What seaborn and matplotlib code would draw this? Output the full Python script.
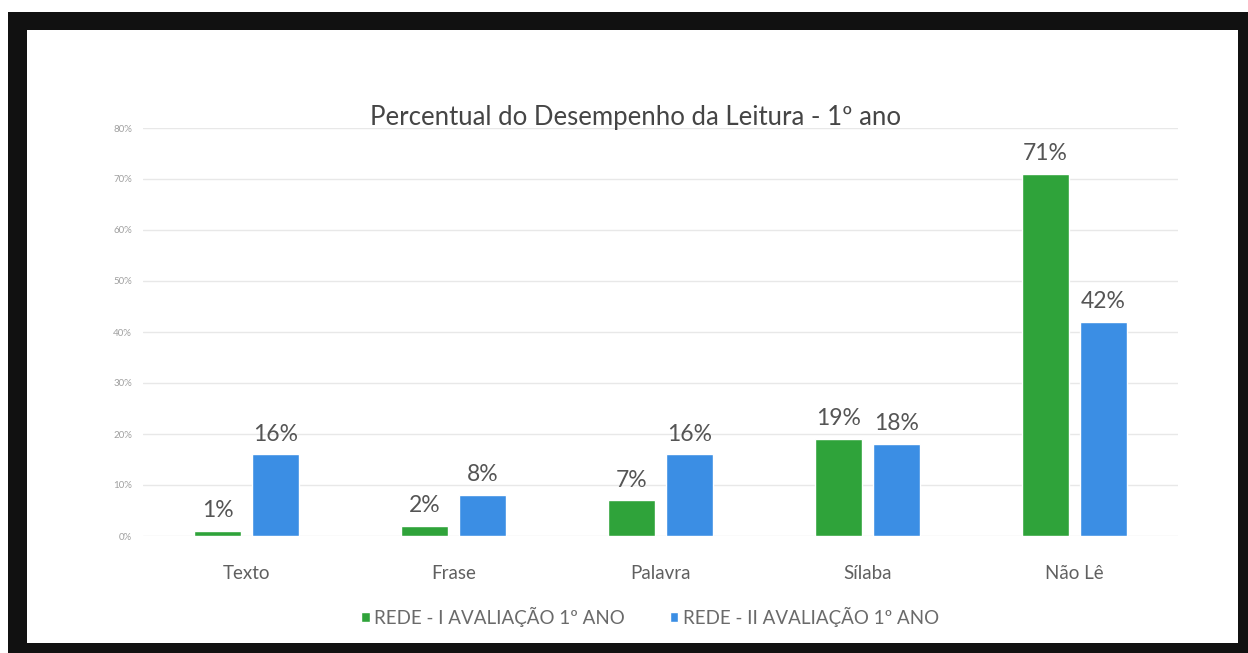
import matplotlib
matplotlib.use("Agg")
import matplotlib.pyplot as plt
from matplotlib.patches import Rectangle
from matplotlib.ticker import PercentFormatter
import pandas as pd
import seaborn as sns

categorias = ["Texto", "Frase", "Palavra", "Sílaba", "Não Lê"]
avaliacao_1 = [1, 2, 7, 19, 71]
avaliacao_2 = [16, 8, 16, 18, 42]
series = ["REDE - I AVALIAÇÃO 1º ANO", "REDE - II AVALIAÇÃO 1º ANO"]
cores = ["#2fa33a", "#3b8ee4"]
titulo = "Percentual do Desempenho da Leitura - 1º ano"

df = pd.DataFrame({
    "categoria": categorias * 2,
    "valor": avaliacao_1 + avaliacao_2,
    "serie": [series[0]] * len(categorias) + [series[1]] * len(categorias),
})

sns.set_theme(style="white")
plt.rcParams["font.family"] = ["Lato", "DejaVu Sans"]

W, H = 1248, 653
fig = plt.figure(figsize=(W / 100, H / 100), dpi=100)
fig.patch.set_facecolor("white")

# black border around the chart
fig.patches.append(Rectangle((8 / W, 0), 1 - 8 / W, (H - 12) / H,
                             transform=fig.transFigure, facecolor="#111111",
                             edgecolor="none", zorder=-2))
fig.patches.append(Rectangle((27 / W, 10 / H), (1238 - 27) / W, (643 - 30) / H,
                             transform=fig.transFigure, facecolor="white",
                             edgecolor="none", zorder=-1))

ax = fig.add_axes([143 / W, (H - 536) / H, (1178 - 143) / W, (536 - 128) / H])
ax.set_facecolor("none")

sns.barplot(data=df, x="categoria", y="valor", hue="serie", palette=cores,
            width=0.56, gap=0.2, ax=ax, legend=True, saturation=1)

ax.set_ylim(0, 80)
ax.set_yticks(range(0, 81, 10))
ax.yaxis.set_major_formatter(PercentFormatter(decimals=0))
ax.tick_params(axis="y", labelsize=7, labelcolor="#a0a0a0", length=0, pad=8)
ax.tick_params(axis="x", labelsize=13.5, labelcolor="#606060", length=0, pad=21)
ax.yaxis.grid(True, color="#e8e8e8", linewidth=1)
ax.set_axisbelow(True)
for s in ax.spines.values():
    s.set_visible(False)
ax.set_xlabel("")
ax.set_ylabel("")

for cont in ax.containers:
    ax.bar_label(cont, fmt="%.0f%%", padding=7, fontsize=16.5, color="#555555")

fig.text(0.5 + 12 / W, (H - 117) / H, titulo, ha="center", va="center",
         fontsize=18.5, color="#454545")

leg = ax.legend(loc="center", bbox_to_anchor=(0.49, (536 - 617) / (536 - 128)),
                ncol=2, frameon=False, fontsize=13.5, handlelength=0.45,
                handleheight=0.45, handletextpad=0.25, columnspacing=2.4)
for t in leg.get_texts():
    t.set_color("#6a6a6a")

fig.savefig("out.png", dpi=100)
